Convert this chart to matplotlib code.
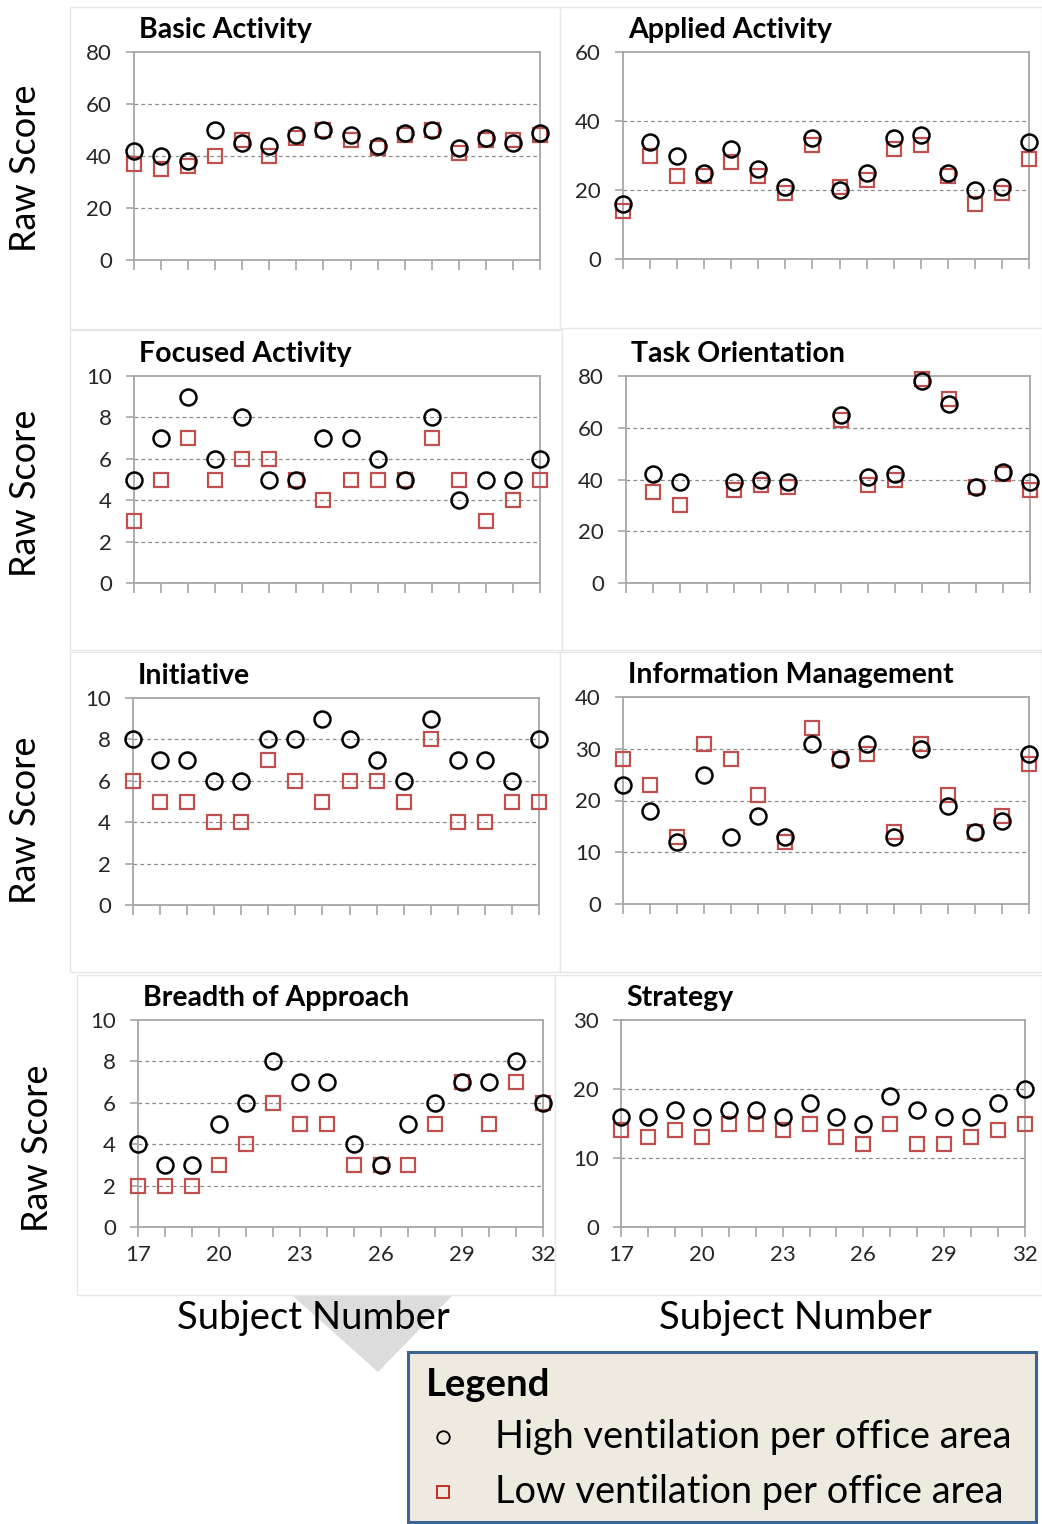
import numpy as np
import matplotlib
matplotlib.use("Agg")
import matplotlib.pyplot as plt
from matplotlib.patches import Rectangle, Polygon

plt.rcParams['font.family'] = ['Lato', 'DejaVu Sans']

W, H = 1042, 1524  # figure size in pixels

subjects = np.arange(17, 33)
nan = np.nan

# scores per category: high / low ventilation per office area
basic_high = [42, 40, 38, 50, 45, 44, 48, 50, 48, 44, 49, 50, 43, 47, 45, 49]
basic_low = [37, 35, 36, 40, 46, 40, 47, 50, 46, 43, 48, 50, 41, 46, 46, 48]
applied_high = [16, 34, 30, 25, 32, 26, 21, 35, 20, 25, 35, 36, 25, 20, 21, 34]
applied_low = [14, 30, 24, 24, 28, 24, 19, 33, 21, 23, 32, 33, 24, 16, 19, 29]
focused_high = [5, 7, 9, 6, 8, 5, 5, 7, 7, 6, 5, 8, 4, 5, 5, 6]
focused_low = [3, 5, 7, 5, 6, 6, 5, 4, 5, 5, 5, 7, 5, 3, 4, 5]
task_high = [nan, 42, 39, nan, 39, 40, 39, nan, 65, 41, 42, 78, 69, 37, 43, 39]
task_low = [nan, 35, 30, nan, 36, 38, 37, nan, 63, 38, 40, 79, 71, 37, 42, 36]
init_high = [8, 7, 7, 6, 6, 8, 8, 9, 8, 7, 6, 9, 7, 7, 6, 8]
init_low = [6, 5, 5, 4, 4, 7, 6, 5, 6, 6, 5, 8, 4, 4, 5, 5]
info_high = [23, 18, 12, 25, 13, 17, 13, 31, 28, 31, 13, 30, 19, 14, 16, 29]
info_low = [28, 23, 13, 31, 28, 21, 12, 34, 28, 29, 14, 31, 21, 14, 17, 27]
breadth_high = [4, 3, 3, 5, 6, 8, 7, 7, 4, 3, 5, 6, 7, 7, 8, 6]
breadth_low = [2, 2, 2, 3, 4, 6, 5, 5, 3, 3, 3, 5, 7, 5, 7, 6]
strategy_high = [16, 16, 17, 16, 17, 17, 16, 18, 16, 15, 19, 17, 16, 16, 18, 20]
strategy_low = [14, 13, 14, 13, 15, 15, 14, 15, 13, 12, 15, 12, 12, 13, 14, 15]

titles = ["Basic Activity", "Applied Activity", "Focused Activity", "Task Orientation",
          "Initiative", "Information Management", "Breadth of Approach", "Strategy"]
highs = [basic_high, applied_high, focused_high, task_high,
         init_high, info_high, breadth_high, strategy_high]
lows = [basic_low, applied_low, focused_low, task_low,
        init_low, info_low, breadth_low, strategy_low]
ymaxes = [80, 60, 10, 80, 10, 40, 10, 30]
ysteps = [20, 20, 2, 20, 2, 10, 2, 10]

# plot areas (left, top, right, bottom) in pixels
boxes = [(134, 52, 540, 260), (623, 52, 1029, 259),
         (134, 376, 540, 583), (626, 376, 1030, 583),
         (133, 698, 539, 905), (623, 697, 1029, 904),
         (138, 1020, 543, 1227), (621, 1020, 1025, 1227)]
# faint outlines of each chart object
frames = [(70, 7, 560, 329), (560, 7, 1042, 329),
          (70, 330, 562, 650), (562, 328, 1042, 650),
          (70, 652, 560, 972), (560, 652, 1042, 972),
          (77, 975, 555, 1295), (555, 975, 1042, 1295)]

RED = "#c0504d"
GRID = "#a6a6a6"


def fx(x):
    return x / W


def fy(y):
    return 1 - y / H


fig = plt.figure(figsize=(W / 100, H / 100), dpi=100)

# grey chevron behind the left x label
fig.patches.append(Polygon([(fx(293), fy(1296)), (fx(452), fy(1296)), (fx(378), fy(1372))],
                           closed=True, transform=fig.transFigure, facecolor="#dcdcdc",
                           edgecolor="none", zorder=-2))

for l, t, r, b in frames:
    fig.patches.append(Rectangle((fx(l), fy(b)), (r - l) / W, (b - t) / H,
                                 transform=fig.transFigure, facecolor="white",
                                 edgecolor="#e6e6e6", linewidth=1, zorder=-1))

for i, (l, t, r, b) in enumerate(boxes):
    ax = fig.add_axes([fx(l), fy(b), (r - l) / W, (b - t) / H])
    ax.set_xlim(17, 32)
    ax.set_ylim(0, ymaxes[i])
    ax.set_yticks(np.arange(0, ymaxes[i] + 1, ysteps[i]))
    ax.set_xticks(subjects)
    if i >= 6:
        ax.set_xticklabels([str(s) if (s - 17) % 3 == 0 else "" for s in subjects])
    else:
        ax.set_xticklabels([])
    ax.tick_params(axis="both", direction="out", length=6, width=1.2, color=GRID,
                   labelsize=16, labelcolor="#262626")
    ax.tick_params(axis="x", pad=6, length=7)
    ax.tick_params(axis="y", pad=10)
    for s in ax.spines.values():
        s.set_color(GRID)
        s.set_linewidth(1.3)
    for yv in np.arange(ysteps[i], ymaxes[i], ysteps[i]):
        ax.axhline(yv, color="#8c8c8c", lw=0.9, ls=(0, (3, 2.5)), zorder=1)

    ax.plot(subjects, lows[i], ls="none", marker="s", ms=10.5, mfc="none",
            mec=RED, mew=1.6, clip_on=False, zorder=3)
    ax.plot(subjects, highs[i], ls="none", marker="o", ms=11.5, mfc="none",
            mec="black", mew=1.8, clip_on=False, zorder=4)

    fig.text(fx(l + 5), fy(t - 22), titles[i], fontsize=20.5, fontweight="bold",
             ha="left", va="center")

# y labels on the left column
for yc, xc in [(168, 25), (493, 25), (820, 25), (1148, 37)]:
    fig.text(fx(xc), fy(yc), "Raw Score", fontsize=26, rotation=90,
             ha="center", va="center")

for xc in [313, 795]:
    fig.text(fx(xc), fy(1318), "Subject Number", fontsize=27.5, ha="center", va="center")

# legend box on its own overlay axes in pixel units
leg = fig.add_axes([0, 0, 1, 1], facecolor="none")
leg.set_zorder(5)
leg.set_xlim(0, W)
leg.set_ylim(H, 0)
leg.axis("off")
leg.add_patch(Rectangle((408, 1352), 1036 - 408, 1522 - 1352, facecolor="#eeeae0",
                        edgecolor="#3d6494", linewidth=2.2))
leg.plot([443], [1437], marker="o", ms=9, mfc="none", mec="black", mew=1.3)
leg.plot([443], [1492], marker="s", ms=9, mfc="none", mec="#c0200f", mew=1.3)
leg.text(426, 1385, "Legend", fontsize=27.5, fontweight="bold", ha="left", va="center")
leg.text(495, 1437, "High ventilation per office area", fontsize=27.3,
         ha="left", va="center")
leg.text(495, 1492, "Low ventilation per office area", fontsize=27.3,
         ha="left", va="center")

fig.savefig("out.png", dpi=100)
